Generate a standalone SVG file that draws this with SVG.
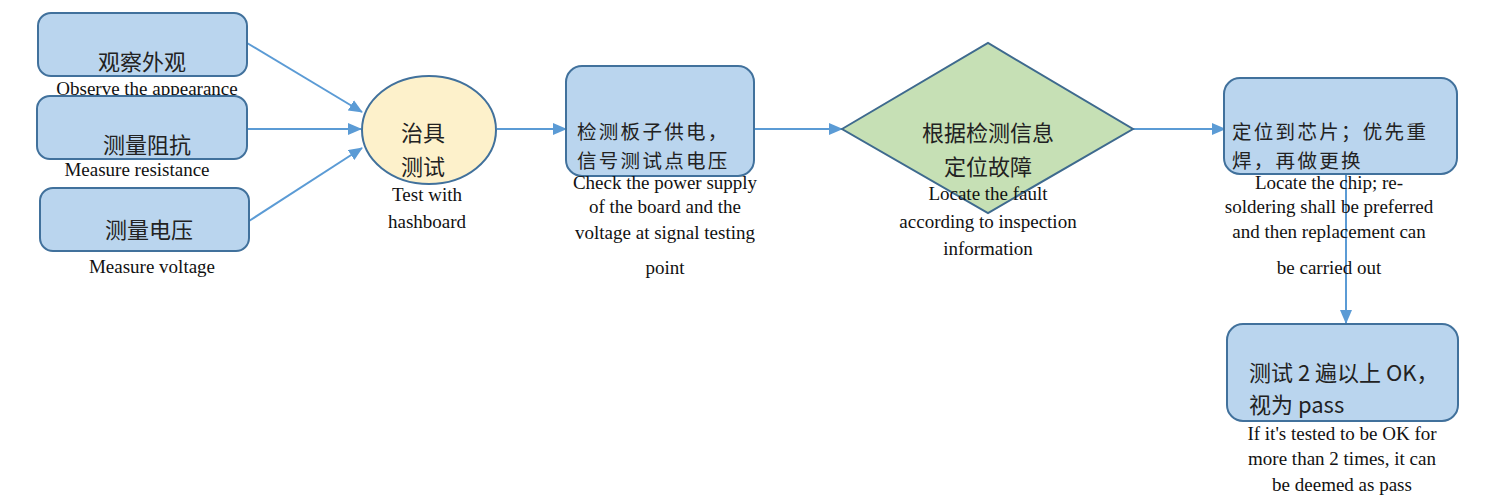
<svg xmlns="http://www.w3.org/2000/svg" width="1500" height="498" viewBox="0 0 1500 498">
<defs>
<style>
.box{fill:#bad5ee;stroke:#41719c;stroke-width:2}
.ell{fill:#fdf1cb;stroke:#41719c;stroke-width:2}
.dia{fill:#c6e0b5;stroke:#3e6a8e;stroke-width:2}
.cn{font-family:"Noto Sans CJK SC",sans-serif;font-size:22px;fill:#222}
.cs{font-size:19.5px;letter-spacing:2.3px}
.en{font-family:"Liberation Serif",serif;font-size:19px;fill:#111}
.mid{text-anchor:middle}
.conn{stroke:#5b9bd5;stroke-width:2;fill:none;marker-end:url(#ah)}
</style>
<marker id="ah" markerUnits="userSpaceOnUse" markerWidth="14" markerHeight="12" refX="13" refY="6" orient="auto">
<path d="M0,0 L14,6 L0,12 Z" fill="#5b9bd5"/>
</marker>
</defs>
<rect width="1500" height="498" fill="#ffffff"/>
<g id="connectors">
<line class="conn" x1="247" y1="43" x2="362" y2="112"/>
<line class="conn" x1="247" y1="129" x2="361" y2="129"/>
<line class="conn" x1="249" y1="221" x2="362" y2="148"/>
<line class="conn" x1="497" y1="129" x2="566" y2="129"/>
<line class="conn" x1="754" y1="129" x2="842" y2="129"/>
<line class="conn" x1="1133" y1="129" x2="1225" y2="129"/>
<line class="conn" x1="1346" y1="174" x2="1346" y2="323"/>
</g>
<g id="n1">
<rect class="box" x="38" y="13" width="209" height="63" rx="13"/>
<text class="cn mid" x="142" y="70">观察外观</text>
<text class="en mid" x="147" y="95">Observe the appearance</text>
</g>
<g id="n2">
<rect class="box" x="37" y="96" width="210" height="63" rx="13"/>
<text class="cn mid" x="147" y="153">测量阻抗</text>
<text class="en mid" x="137" y="176">Measure resistance</text>
</g>
<g id="n3">
<rect class="box" x="40" y="188" width="209" height="63" rx="13"/>
<text class="cn mid" x="149" y="238">测量电压</text>
<text class="en mid" x="152" y="273">Measure voltage</text>
</g>
<g id="n4">
<ellipse class="ell" cx="429" cy="130" rx="67" ry="54"/>
<text class="cn mid" x="423" y="141">治具</text>
<text class="cn mid" x="423" y="175">测试</text>
<text class="en mid" x="427" y="201">Test with</text>
<text class="en mid" x="427" y="228">hashboard</text>
</g>
<g id="n5">
<rect class="box" x="566" y="66" width="188" height="110" rx="16"/>
<text class="cn cs" x="577" y="139">检测板子供电，</text>
<text class="cn cs" x="577" y="168">信号测试点电压</text>
<text class="en mid" x="665" y="189">Check the power supply</text>
<text class="en mid" x="665" y="213">of the board and the</text>
<text class="en mid" x="665" y="239">voltage at signal testing</text>
<text class="en mid" x="665" y="274">point</text>
</g>
<g id="n6">
<polygon class="dia" points="842,129 988,43 1133,129 988,213"/>
<text class="cn mid" x="988" y="141">根据检测信息</text>
<text class="cn mid" x="988" y="175">定位故障</text>
<text class="en mid" x="988" y="200">Locate the fault</text>
<text class="en mid" x="988" y="228">according to inspection</text>
<text class="en mid" x="988" y="255">information</text>
</g>
<g id="n7">
<rect class="box" x="1224" y="78" width="233" height="96" rx="16"/>
<text class="cn cs" x="1232" y="139">定位到芯片；优先重</text>
<text class="cn cs" x="1232" y="168">焊，再做更换</text>
<text class="en mid" x="1329" y="189">Locate the chip; re-</text>
<text class="en mid" x="1329" y="213">soldering shall be preferred</text>
<text class="en mid" x="1329" y="238">and then replacement can</text>
<text class="en mid" x="1329" y="274">be carried out</text>
</g>
<g id="n8">
<rect class="box" x="1227" y="324" width="231" height="97" rx="16"/>
<text class="cn" x="1249" y="381">测试 2 遍以上 OK，</text>
<text class="cn" x="1249" y="413">视为 pass</text>
<text class="en mid" x="1342" y="440">If it's tested to be OK for</text>
<text class="en mid" x="1342" y="465">more than 2 times, it can</text>
<text class="en mid" x="1342" y="491">be deemed as pass</text>
</g>
</svg>
